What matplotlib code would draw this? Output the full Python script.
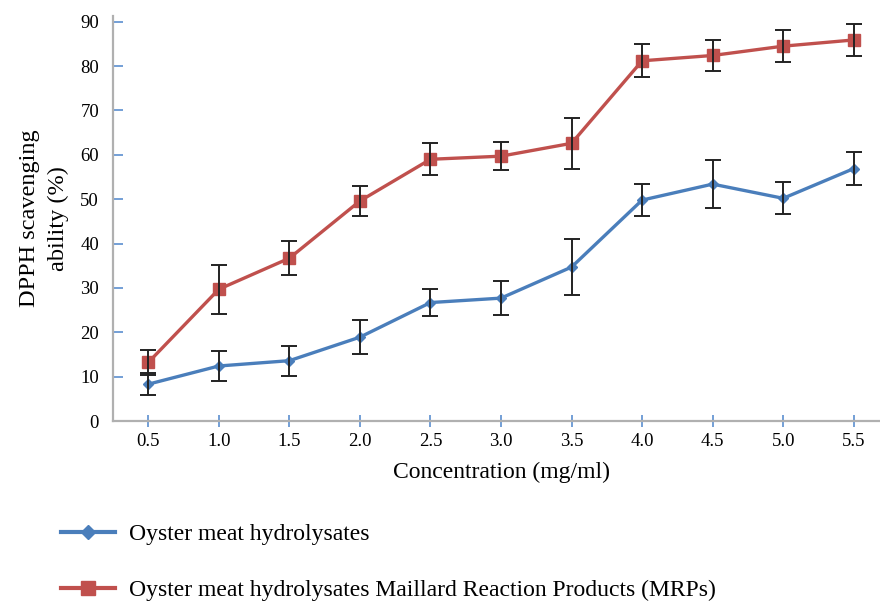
import numpy as np
import matplotlib.pyplot as plt
from matplotlib.lines import Line2D

plt.rcParams['font.family'] = ['Liberation Serif', 'DejaVu Serif']

# data
conc = ['0.5', '1.0', '1.5', '2.0', '2.5', '3.0', '3.5', '4.0', '4.5', '5.0', '5.5']
hydro = [8.3, 12.4, 13.6, 18.9, 26.7, 27.7, 34.7, 49.8, 53.4, 50.2, 56.9]
hydro_err = [2.5, 3.4, 3.4, 3.8, 3.0, 3.8, 6.3, 3.6, 5.4, 3.6, 3.7]
mrps = [13.2, 29.7, 36.7, 49.6, 59.0, 59.7, 62.6, 81.2, 82.4, 84.5, 85.9]
mrps_err = [2.8, 5.5, 3.8, 3.4, 3.6, 3.1, 5.7, 3.7, 3.5, 3.6, 3.6]
yticks = [0, 10, 20, 30, 40, 50, 60, 70, 80, 90]

label_hydro = 'Oyster meat hydrolysates'
label_mrps = 'Oyster meat hydrolysates Maillard Reaction Products (MRPs)'

BLUE = '#4A7EBB'
RED = '#C0504D'
TICK = '#5B8FD0'
SPINE = '#B0B0B0'

fig = plt.figure(figsize=(8.8, 6.04), dpi=100)
W, H = 880, 604
ax = fig.add_axes([113 / W, 1 - 421 / H, 776 / W, (421 - 16) / H])

x = np.arange(len(conc))

ax.plot(x, hydro, color=BLUE, lw=2.4, marker='D', ms=5.5, zorder=3)
ax.errorbar(x, hydro, yerr=hydro_err, fmt='none', ecolor='#222222',
            elinewidth=1.4, capsize=6, capthick=1.4, zorder=4)
ax.plot(x, mrps, color=RED, lw=2.4, marker='s', ms=9, zorder=3)
ax.errorbar(x, mrps, yerr=mrps_err, fmt='none', ecolor='#222222',
            elinewidth=1.4, capsize=6, capthick=1.4, zorder=4)

ax.set_xlim(-0.5, 10.5)
ax.set_ylim(0, 91.3)
ax.set_xticks(x)
ax.set_xticklabels(conc)
ax.set_yticks(yticks)

for side in ['top', 'right']:
    ax.spines[side].set_visible(False)
for side in ['left', 'bottom']:
    ax.spines[side].set_color(SPINE)
    ax.spines[side].set_linewidth(1.6)

ax.tick_params(axis='y', direction='in', length=7, width=1.2, color=TICK,
               labelsize=13.5, pad=10)
ax.tick_params(axis='x', direction='inout', length=8, width=1.2, color=TICK,
               labelsize=13.5, pad=5)

ax.set_xlabel('Concentration (mg/ml)', fontsize=17, labelpad=8)
ax.set_ylabel('DPPH scavenging\nability (%)', fontsize=17.5, linespacing=1.5)
# right edge of the two-line label sits ~45 px left of the spine
ax.yaxis.set_label_coords(-44 / 776, 0.5)

handles = [
    Line2D([], [], color=BLUE, lw=3, marker='D', ms=7),
    Line2D([], [], color=RED, lw=3, marker='s', ms=10),
]
fig.legend(handles, [label_hydro, label_mrps], loc='upper left',
           bbox_to_anchor=(0.045, 0.168), frameon=False, fontsize=17,
           handlelength=2.3, handletextpad=0.6, labelspacing=1.45)

fig.savefig('out.png', dpi=100)
